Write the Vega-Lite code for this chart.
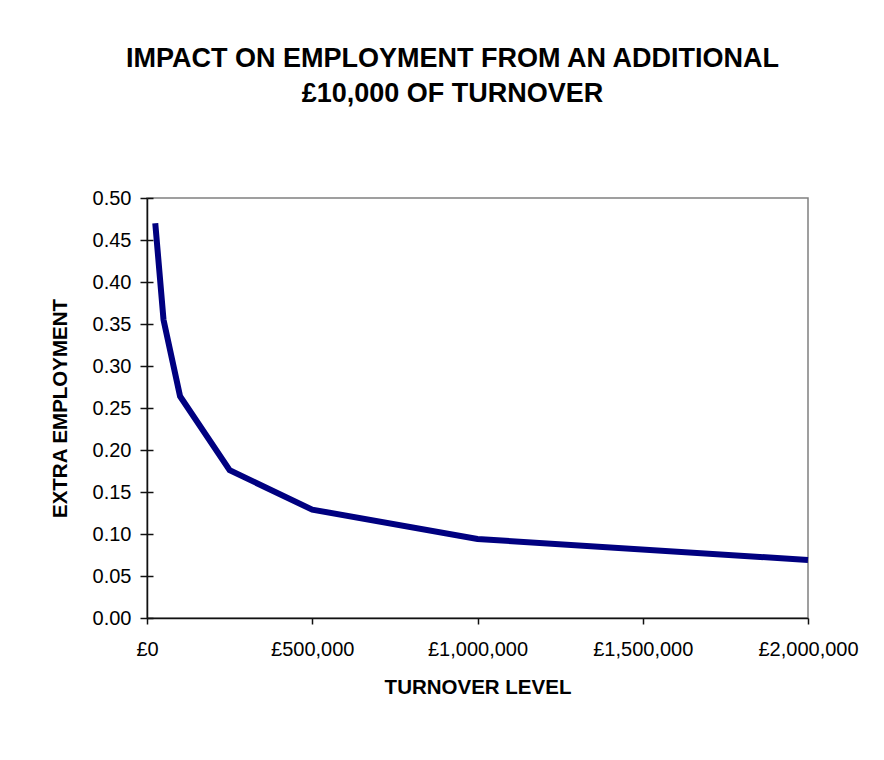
{
  "$schema": "https://vega.github.io/schema/vega-lite/v6.json",
  "width": 661,
  "height": 420,
  "autosize": {"type": "none"},
  "padding": {"left": 147, "top": 198, "right": 76, "bottom": 142},
  "background": "white",
  "title": {
    "text": ["IMPACT ON EMPLOYMENT FROM AN ADDITIONAL", "£10,000 OF TURNOVER"],
    "font": "Liberation Sans",
    "fontSize": 27,
    "fontWeight": "bold",
    "color": "black",
    "lineHeight": 35,
    "anchor": "middle",
    "dx": -25,
    "offset": 80
  },
  "data": {
    "values": [
      {"turnover": 25000, "employment": 0.470},
      {"turnover": 50000, "employment": 0.355},
      {"turnover": 100000, "employment": 0.264},
      {"turnover": 250000, "employment": 0.176},
      {"turnover": 500000, "employment": 0.129},
      {"turnover": 1000000, "employment": 0.094},
      {"turnover": 2000000, "employment": 0.069}
    ]
  },
  "layer": [
    {
      "mark": {"type": "line", "color": "#000080", "strokeWidth": 6, "strokeJoin": "miter", "strokeCap": "butt"},
      "encoding": {
        "x": {
          "field": "turnover",
          "type": "quantitative",
          "scale": {"domain": [0, 2000000], "nice": false, "zero": true},
          "axis": {
            "values": [0, 500000, 1000000, 1500000, 2000000],
            "labelExpr": "'£' + format(datum.value, ',')",
            "tickSize": 6,
            "labelPadding": 15,
            "labelFlush": false,
            "title": "TURNOVER LEVEL",
            "titlePadding": 18
          }
        },
        "y": {
          "field": "employment",
          "type": "quantitative",
          "scale": {"domain": [0, 0.5], "nice": false},
          "axis": {
            "values": [0, 0.05, 0.1, 0.15, 0.2, 0.25, 0.3, 0.35, 0.4, 0.45, 0.5],
            "format": ".2f",
            "tickSize": 7,
            "labelPadding": 9,
            "title": "EXTRA EMPLOYMENT",
            "titlePadding": 22
          }
        }
      }
    },
    {
      "mark": {"type": "line", "opacity": 0},
      "encoding": {
        "x": {"field": "turnover", "type": "quantitative", "scale": {"domain": [0, 2000000], "nice": false}},
        "y": {
          "field": "employment",
          "type": "quantitative",
          "scale": {"domain": [0, 0.5], "nice": false},
          "axis": {
            "orient": "left",
            "values": [0, 0.05, 0.1, 0.15, 0.2, 0.25, 0.3, 0.35, 0.4, 0.45, 0.5],
            "tickSize": -6,
            "labels": false,
            "domain": false,
            "title": null
          }
        }
      }
    }
  ],
  "resolve": {"scale": {"y": "independent"}},
  "config": {
    "view": {"stroke": "#808080", "strokeWidth": 1.5},
    "axis": {
      "grid": false,
      "domainColor": "#111111",
      "domainWidth": 1.5,
      "tickColor": "#111111",
      "tickWidth": 1.5,
      "labelFont": "Liberation Sans",
      "labelFontSize": 20,
      "labelColor": "black",
      "titleFont": "Liberation Sans",
      "titleFontSize": 20.5,
      "titleFontWeight": "bold",
      "titleColor": "black"
    }
  }
}
